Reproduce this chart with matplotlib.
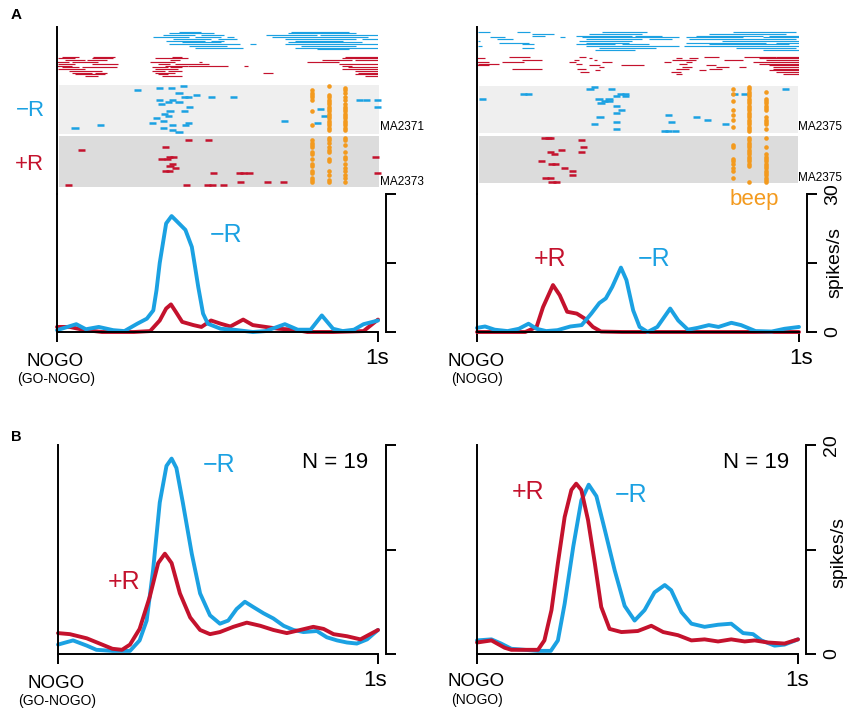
import matplotlib.pyplot as plt
from matplotlib.patches import Rectangle

plt.rcParams['font.family'] = ['Liberation Sans', 'DejaVu Sans']

BLUE = '#1ba1e2'
RED = '#c4122d'
ORANGE = '#f39a1e'
GRAY_MINUS = '#efefef'
GRAY_PLUS = '#dcdcdc'
W, H = 850, 716

# ---------------- data ----------------
# PSTHs (time from NOGO onset in s, firing rate in spikes/s)
a_left_blue_t = [0, 0.06, 0.09, 0.13, 0.175, 0.21, 0.25, 0.28, 0.30, 0.31, 0.32, 0.34, 0.357, 0.37,
                 0.40, 0.42, 0.43, 0.44, 0.455, 0.47, 0.51, 0.55, 0.61, 0.65, 0.71, 0.75, 0.79,
                 0.825, 0.86, 0.89, 0.925, 0.955, 1.0]
a_left_blue_v = [0.4, 1.7, 0.6, 1.1, 0.4, 0.2, 1.8, 2.9, 4.7, 9.1, 15, 23.6, 25.2, 24.3,
                 22.2, 18.5, 14.2, 9.8, 4, 1.8, 0.7, 0.5, 0, 0.2, 1.7, 0.5, 0.5,
                 3.6, 0.7, 0.2, 0.5, 1.7, 2.5]
a_left_red_t = [0, 0.04, 0.08, 0.14, 0.24, 0.29, 0.32, 0.34, 0.355, 0.37, 0.39, 0.425, 0.45,
                0.48, 0.51, 0.54, 0.58, 0.61, 0.65, 0.69, 0.74, 0.78, 0.86, 0.955, 1.0]
a_left_red_v = [1.1, 1.1, 0.5, 0, 0, 0.2, 2.5, 5.1, 6.0, 4.4, 2.2, 1.5, 1.1,
                2.5, 1.8, 1.2, 2.7, 1.5, 1.1, 0.7, 0.5, 0, 0, 0.2, 2.7]

a_right_blue_t = [0, 0.025, 0.055, 0.095, 0.13, 0.16, 0.185, 0.215, 0.25, 0.29, 0.325, 0.355,
                  0.38, 0.40, 0.42, 0.447, 0.464, 0.485, 0.505, 0.53, 0.56, 0.585, 0.60, 0.625,
                  0.655, 0.685, 0.72, 0.75, 0.79, 0.82, 0.865, 0.915, 0.955, 1.0]
a_right_blue_v = [0.9, 1.2, 0.5, 0.2, 0.7, 1.8, 0.7, 0.2, 0.4, 1.2, 1.5, 4.0,
                  6.3, 7.3, 9.8, 14.0, 11.3, 4.7, 1.1, 0, 1.1, 3.6, 5.1, 2.5,
                  0.5, 0.9, 1.5, 1.1, 2.0, 1.5, 0.2, 0.1, 0.7, 1.1]
a_right_red_t = [0, 0.15, 0.185, 0.205, 0.236, 0.257, 0.28, 0.31, 0.335, 0.36, 0.385, 0.45, 1.0]
a_right_red_v = [0, 0, 1.1, 5.4, 10.2, 8.0, 4.4, 4.0, 2.9, 1.1, 0.1, 0, 0]

b_left_blue_t = [0, 0.047, 0.09, 0.12, 0.17, 0.225, 0.255, 0.277, 0.297, 0.318, 0.339, 0.355,
                 0.37, 0.39, 0.418, 0.444, 0.475, 0.506, 0.532, 0.558, 0.584, 0.61, 0.642,
                 0.673, 0.705, 0.736, 0.767, 0.809, 0.84, 0.872, 0.903, 0.934, 0.966, 1.0]
b_left_blue_v = [0.9, 1.3, 0.8, 0.4, 0.3, 0.3, 1.3, 3.2, 8, 14.5, 18.0, 18.7,
                 17.8, 14.5, 9.6, 5.8, 3.7, 2.9, 3.2, 4.3, 5.0, 4.5, 3.9,
                 3.4, 2.7, 2.3, 2.1, 2.2, 1.6, 1.3, 1.1, 1.0, 1.4, 2.3]
b_left_red_t = [0, 0.037, 0.09, 0.13, 0.17, 0.2, 0.225, 0.255, 0.287, 0.313, 0.334, 0.355,
                0.381, 0.413, 0.444, 0.475, 0.506, 0.548, 0.59, 0.632, 0.673, 0.715, 0.757,
                0.798, 0.83, 0.861, 0.903, 0.945, 1.0]
b_left_red_v = [2.0, 1.9, 1.5, 1.0, 0.5, 0.4, 0.9, 2.4, 5.5, 8.7, 9.6, 8.7,
                5.8, 3.5, 2.3, 1.9, 2.1, 2.6, 3.0, 2.7, 2.3, 2.0, 2.3,
                2.6, 2.4, 1.9, 1.7, 1.4, 2.3]

b_right_blue_t = [0, 0.045, 0.075, 0.107, 0.148, 0.19, 0.23, 0.252, 0.273, 0.3, 0.325, 0.348,
                  0.372, 0.398, 0.429, 0.46, 0.491, 0.522, 0.553, 0.585, 0.605, 0.637, 0.668,
                  0.709, 0.751, 0.792, 0.829, 0.86, 0.886, 0.927, 0.958, 1.0]
b_right_blue_v = [1.3, 1.4, 1.0, 0.5, 0.4, 0.3, 0.3, 1.3, 4.8, 10.3, 14.7, 16.2,
                  15.1, 11.9, 8.0, 4.6, 3.2, 4.2, 5.9, 6.6, 6.1, 4.0, 2.9,
                  2.6, 2.8, 2.9, 2.0, 1.9, 1.3, 0.8, 0.9, 1.4]
b_right_red_t = [0, 0.045, 0.086, 0.107, 0.148, 0.19, 0.21, 0.232, 0.252, 0.273, 0.294, 0.309,
                 0.325, 0.346, 0.367, 0.387, 0.413, 0.45, 0.501, 0.543, 0.58, 0.626, 0.668,
                 0.709, 0.751, 0.792, 0.834, 0.865, 0.906, 0.958, 1.0]
b_right_red_v = [1.1, 1.3, 0.6, 0.4, 0.4, 0.4, 1.3, 4.2, 8.7, 13.1, 15.7, 16.3,
                 15.7, 12.8, 8.7, 4.5, 2.4, 2.1, 2.2, 2.7, 2.1, 1.8, 1.3,
                 1.4, 1.2, 1.4, 1.2, 1.3, 1.1, 1.0, 1.4]

# top rasters: one list of [start, end] periods (s) per row, top row first
left_top_blue = [
    [[0.38, 0.45], [0.73, 0.91]],
    [[0.35, 0.49], [0.72, 0.93]],
    [[0.33, 0.43], [0.45, 0.52], [0.65, 0.81], [0.82, 1.0]],
    [[0.30, 0.41], [0.43, 0.51], [0.53, 0.55], [0.67, 0.97]],
    [[0.36, 0.48], [0.50, 0.56], [0.71, 0.93], [0.95, 1.0]],
    [[0.34, 0.46], [0.48, 0.52], [0.74, 0.89]],
    [[0.39, 0.51], [0.72, 0.95]],
    [[0.35, 0.57], [0.60, 0.62], [0.71, 1.0]],
    [[0.41, 0.53], [0.76, 0.93]],
    [[0.43, 0.58], [0.74, 1.0]],
    [[0.81, 0.91]],
]
left_top_red = [
    [[0.015, 0.067], [0.113, 0.181], [0.357, 0.389], [0.897, 1.0]],
    [[0.004, 0.056], [0.108, 0.176], [0.306, 0.409], [0.887, 1.0]],
    [[0.025, 0.087], [0.093, 0.155], [0.352, 0.383], [0.825, 0.918], [0.929, 1.0]],
    [[0.0, 0.036], [0.046, 0.129], [0.29, 0.368], [0.441, 0.451], [0.778, 0.877]],
    [[0.004, 0.056], [0.108, 0.191], [0.316, 0.352], [0.368, 0.472], [0.877, 1.0]],
    [[0.0, 0.046], [0.337, 0.409], [0.409, 0.534], [0.581, 0.596], [0.887, 0.918]],
    [[0.015, 0.067], [0.077, 0.186], [0.295, 0.347], [0.352, 0.389], [0.908, 1.0]],
    [[0.004, 0.087], [0.306, 0.378], [0.887, 1.0]],
    [[0.036, 0.139], [0.295, 0.337], [0.347, 0.389], [0.929, 1.0]],
    [[0.046, 0.108], [0.119, 0.155], [0.306, 0.368], [0.643, 0.674], [0.939, 1.0]],
    [[0.056, 0.15], [0.316, 0.347], [0.929, 1.0]],
    [[0.087, 0.129], [0.326, 0.389], [0.96, 1.0]],
]
right_top_blue = [
    [[0.004, 0.041], [0.124, 0.165], [0.389, 0.529], [0.794, 0.991]],
    [[0.171, 0.238], [0.347, 0.513], [0.721, 0.96]],
    [[0.171, 0.212], [0.306, 0.482], [0.492, 0.576], [0.679, 0.887], [0.908, 1.0]],
    [[0.041, 0.087], [0.259, 0.274], [0.326, 0.627], [0.648, 0.825], [0.887, 1.0]],
    [[0.062, 0.113], [0.337, 0.513], [0.534, 0.607], [0.659, 0.991]],
    [[0.004, 0.01], [0.316, 0.482], [0.762, 1.0]],
    [[0.067, 0.16], [0.337, 0.472], [0.648, 0.897], [0.929, 1.0]],
    [[0.139, 0.176], [0.306, 0.43], [0.451, 0.534], [0.721, 0.97]],
    [[0.004, 0.015], [0.337, 0.627], [0.643, 1.0]],
    [[0.139, 0.176], [0.378, 0.555], [0.804, 0.991]],
    [[0.368, 0.492], [0.887, 1.0]],
]
right_top_red = [
    [[0.098, 0.165], [0.316, 0.337], [0.705, 0.752], [0.83, 0.929], [0.929, 1.0]],
    [[0.0, 0.025], [0.347, 0.357], [0.617, 0.638], [0.659, 0.685], [0.877, 1.0]],
    [[0.139, 0.202], [0.3, 0.316], [0.363, 0.373], [0.607, 0.679], [0.768, 0.825], [0.897, 1.0]],
    [[0.0, 0.036], [0.077, 0.145], [0.285, 0.306], [0.389, 0.42], [0.581, 0.601],
     [0.648, 0.669], [0.856, 1.0]],
    [[0.004, 0.067], [0.306, 0.326], [0.627, 0.653], [0.877, 1.0]],
    [[0.0, 0.036], [0.347, 0.383], [0.446, 0.518], [0.711, 0.742], [0.908, 1.0]],
    [[0.378, 0.394], [0.638, 0.669], [0.742, 0.783], [0.814, 0.835], [0.918, 1.0]],
    [[0.108, 0.202], [0.311, 0.337], [0.617, 0.659], [0.721, 0.762], [0.918, 1.0]],
    [[0.368, 0.383], [0.69, 0.711], [0.908, 1.0]],
    [[0.321, 0.347], [0.601, 0.633], [0.929, 1.0]],
    [[0.617, 0.638], [0.949, 1.0]],
]

# spike rasters in the shaded bands: spike time (s) and trial number (0 = top)
left_minus_t = [0.251, 0.318, 0.357, 0.393, 0.380, 0.398, 0.41, 0.435, 0.480, 0.549, 0.318,
                0.347, 0.359, 0.380, 0.326, 0.414, 0.352, 0.397, 0.336, 0.347, 0.310, 0.331,
                0.409, 0.298, 0.359, 0.399, 0.331, 0.359, 0.380, 0.056, 0.136, 0.710, 0.822,
                0.833, 0.811, 0.942, 0.965, 0.998, 0.998]
left_minus_trial = [2, 1, 1, 0, 3, 5, 5, 4, 5, 5, 6,
                    7, 6, 7, 8, 9, 11, 11, 12, 13, 14, 15,
                    16, 16, 17, 17, 18, 19, 20, 18, 17, 15, 10,
                    13, 16, 6, 6, 6, 9]
left_plus_t = [0.411, 0.471, 0.075, 0.337, 0.350, 0.362, 0.326, 0.343, 0.361, 0.352, 0.338,
               0.350, 0.368, 0.487, 0.568, 0.582, 0.601, 0.991, 0.999, 0.037, 0.404, 0.470,
               0.485, 0.518, 0.573, 0.655, 0.706]
left_plus_trial = [1, 1, 5, 4, 8, 8, 9, 9, 11, 12, 14,
                   14, 13, 15, 15, 15, 15, 8, 15, 20, 20, 20,
                   20, 20, 19, 19, 19]
right_minus_t = [0.017, 0.145, 0.16, 0.351, 0.366, 0.418, 0.445, 0.460, 0.434, 0.462, 0.379,
                 0.410, 0.385, 0.397, 0.41, 0.434, 0.449, 0.434, 0.382, 0.594, 0.682, 0.716,
                 0.605, 0.365, 0.434, 0.773, 0.434, 0.582, 0.596, 0.617, 0.799, 0.830, 0.957]
right_minus_trial = [5, 3, 3, 1, 0, 1, 3, 3, 4, 4, 5,
                     5, 7, 6, 6, 8, 10, 11, 13, 12, 13, 14,
                     15, 16, 15, 16, 18, 19, 19, 19, 3, 3, 1]
right_plus_t = [0.209, 0.223, 0.229, 0.325, 0.330, 0.261, 0.227, 0.242, 0.325, 0.199, 0.23,
                0.244, 0.271, 0.296, 0.297, 0.214, 0.228, 0.233, 0.247]
right_plus_trial = [0, 0, 0, 1, 4, 5, 6, 7, 6, 10, 11,
                    11, 13, 14, 16, 17, 17, 19, 19]

# beeps: three beep times per cell, and the trials in which each was drawn
left_beep_t = [0.794, 0.847, 0.897]
left_minus_beeps = [[2, 3, 4, 5, 6, 11, 17],
                    [0, 4, 5, 6, 7, 8, 9, 10, 11, 12, 13, 14, 15, 16, 17, 18, 19],
                    [1, 2, 3, 5, 6, 8, 9, 10, 11, 12, 13, 14, 15, 16, 17, 18, 19]]
left_plus_beeps = [[1, 2, 3, 4, 6, 7, 9, 11, 12, 14, 15, 17, 18, 19],
                   [0, 1, 2, 4, 5, 6, 9, 10, 14, 16, 18, 19],
                   [0, 1, 3, 6, 8, 9, 11, 13, 14, 16, 17, 19]]
right_beep_t = [0.795, 0.845, 0.897]
right_minus_beeps = [[1, 3, 6, 10, 12, 14, 17],
                     list(range(20)),
                     [2, 5, 6, 7, 8, 9, 10, 13, 14, 15, 16, 18]]
right_plus_beeps = [[3, 4, 9, 10, 11, 13, 14, 17],
                    [0, 1, 2, 3, 4, 5, 6, 7, 8, 9, 10, 11, 12, 19],
                    [0, 4, 7, 8, 9, 10, 11, 12, 13, 14, 15, 16, 17, 18, 19]]


# ---------------- layout helpers ----------------
def box(x0, y0, x1, y1):
    # pixel box (origin top-left) -> figure fraction rect
    return [x0 / W, 1 - y1 / H, (x1 - x0) / W, (y1 - y0) / H]


def ftext(px, py, s, **kw):
    kw.setdefault('ha', 'center')
    kw.setdefault('va', 'center')
    fig.text(px / W, 1 - py / H, s, **kw)


def draw_raster(ax, top_blue, top_red, minus_t, minus_tr, plus_t, plus_tr,
                beep_t, minus_beeps, plus_beeps, lay):
    ax.set_xlim(0, 1)
    ax.set_ylim(lay['height'], 0)
    for s in ['top', 'right', 'bottom']:
        ax.spines[s].set_visible(False)
    ax.spines['left'].set_linewidth(1.4)
    ax.set_xticks([])
    ax.set_yticks([])
    ax.patch.set_alpha(0)

    for i, row in enumerate(top_blue):
        y = lay['blue0'] + i * lay['row_dy']
        ax.hlines([y] * len(row), [p[0] for p in row], [p[1] for p in row],
                  color=BLUE, lw=0.85)
    for i, row in enumerate(top_red):
        y = lay['red0'] + i * lay['row_dy']
        ax.hlines([y] * len(row), [p[0] for p in row], [p[1] for p in row],
                  color=RED, lw=0.85)

    bx0, bx1 = lay['band_x']
    for (y0, y1), c in [(lay['minus_band'], GRAY_MINUS), (lay['plus_band'], GRAY_PLUS)]:
        ax.add_patch(Rectangle((bx0, y0), bx1 - bx0, y1 - y0, color=c, lw=0,
                               clip_on=False, zorder=0))

    half = 0.011
    ym = [lay['minus0'] + k * lay['trial_dy'] for k in minus_tr]
    ax.hlines(ym, [t - half for t in minus_t], [t + half for t in minus_t],
              color=BLUE, lw=1.8, clip_on=False)
    yp = [lay['plus0'] + k * lay['trial_dy'] for k in plus_tr]
    ax.hlines(yp, [t - half for t in plus_t], [t + half for t in plus_t],
              color=RED, lw=1.8, clip_on=False)

    for bt, mt, pt in zip(beep_t, minus_beeps, plus_beeps):
        ys = [lay['minus0'] + k * lay['trial_dy'] for k in mt] + \
             [lay['plus0'] + k * lay['trial_dy'] for k in pt]
        ax.plot([bt] * len(ys), ys, 'o', ms=3.3, color=ORANGE, mec='none', clip_on=False)


def draw_psth(ax, curves, ymax, labels):
    for t, v, c in curves:
        ax.plot(t, v, color=c, lw=2.8, clip_on=False, solid_capstyle='round',
                solid_joinstyle='round')
    ax.set_xlim(0, 1)
    ax.set_ylim(0, ymax)
    ax.spines['top'].set_visible(False)
    for s in ['left', 'right', 'bottom']:
        ax.spines[s].set_linewidth(1.4)
    ax.spines['right'].set_position(('outward', 5.5))
    ax.set_xticks([0, 1])
    ax.set_yticks([0, ymax / 2, ymax])
    ax.tick_params(axis='x', direction='out', length=7.5, width=1.4, labelbottom=False)
    ax.tick_params(axis='y', direction='out', length=7.5, width=1.4, left=False,
                   right=True, labelleft=False, labelright=labels, pad=5)
    if labels:
        ax.set_yticklabels(['0', '', str(ymax)], rotation=90, va='center', fontsize=14)
    ax.patch.set_alpha(0)


fig = plt.figure(figsize=(8.5, 7.16), dpi=100)

lay_left = dict(height=167, blue0=4.7, red0=29.7, row_dy=1.76, band_x=(0.006, 1.003),
                minus_band=(58, 107), plus_band=(109, 160), minus0=58.7, plus0=111,
                trial_dy=2.33)
lay_right = dict(height=167, blue0=5.3, red0=29.7, row_dy=1.72, band_x=(0.006, 0.997),
                 minus_band=(59, 106), plus_band=(109, 156), minus0=60, plus0=111,
                 trial_dy=2.33)

ax = fig.add_axes(box(57, 27, 378, 194))
draw_raster(ax, left_top_blue, left_top_red, left_minus_t, left_minus_trial,
            left_plus_t, left_plus_trial, left_beep_t, left_minus_beeps, left_plus_beeps,
            lay_left)
ax = fig.add_axes(box(477, 27, 799, 194))
draw_raster(ax, right_top_blue, right_top_red, right_minus_t, right_minus_trial,
            right_plus_t, right_plus_trial, right_beep_t, right_minus_beeps,
            right_plus_beeps, lay_right)

ax = fig.add_axes(box(57, 194, 378, 332))
draw_psth(ax, [(a_left_red_t, a_left_red_v, RED), (a_left_blue_t, a_left_blue_v, BLUE)],
          30, False)
ax = fig.add_axes(box(477, 194, 799, 332))
draw_psth(ax, [(a_right_red_t, a_right_red_v, RED), (a_right_blue_t, a_right_blue_v, BLUE)],
          30, True)
ax = fig.add_axes(box(58, 445, 378, 654))
draw_psth(ax, [(b_left_blue_t, b_left_blue_v, BLUE), (b_left_red_t, b_left_red_v, RED)],
          20, False)
ax = fig.add_axes(box(477, 445, 798, 654))
draw_psth(ax, [(b_right_blue_t, b_right_blue_v, BLUE), (b_right_red_t, b_right_red_v, RED)],
          20, True)

# ---------------- text ----------------
ftext(16, 15, 'A', fontsize=11, fontweight='bold')
ftext(16, 437, 'B', fontsize=10.5, fontweight='bold')

ftext(30, 111, '\u2212R', color=BLUE, fontsize=16)
ftext(29, 165, '+R', color=RED, fontsize=16)
ftext(380, 127, 'MA2371', ha='left', fontsize=8.5)
ftext(380, 182, 'MA2373', ha='left', fontsize=8.5)
ftext(798, 127, 'MA2375', ha='left', fontsize=8.5)
ftext(798, 178, 'MA2375', ha='left', fontsize=8.5)
ftext(754, 199, 'beep', color=ORANGE, fontsize=16)

for px, py, s, c in [(226, 235, '\u2212R', BLUE), (550, 259, '+R', RED),
                     (654, 259, '\u2212R', BLUE), (219, 465, '\u2212R', BLUE),
                     (124, 582, '+R', RED), (528, 492, '+R', RED),
                     (631, 495, '\u2212R', BLUE)]:
    ftext(px, py, s, color=c, fontsize=18)
ftext(335, 462, 'N = 19', fontsize=16)
ftext(756, 462, 'N = 19', fontsize=16)

ftext(835, 263, 'spikes/s', rotation=90, fontsize=14)
ftext(839, 553, 'spikes/s', rotation=90, fontsize=14)

for x0, x1, y, sub in [(55, 377, 361, '(GO-NOGO)'), (476, 801, 361, '(NOGO)'),
                       (56, 375, 683, '(GO-NOGO)'), (476, 797, 682, '(NOGO)')]:
    ftext(x0, y, 'NOGO', fontsize=13.5)
    ftext(x0 + 1, y + 18, sub, fontsize=10)
    ftext(x1, y - 2, '1s', fontsize=16)

fig.savefig('out.png', dpi=100)
